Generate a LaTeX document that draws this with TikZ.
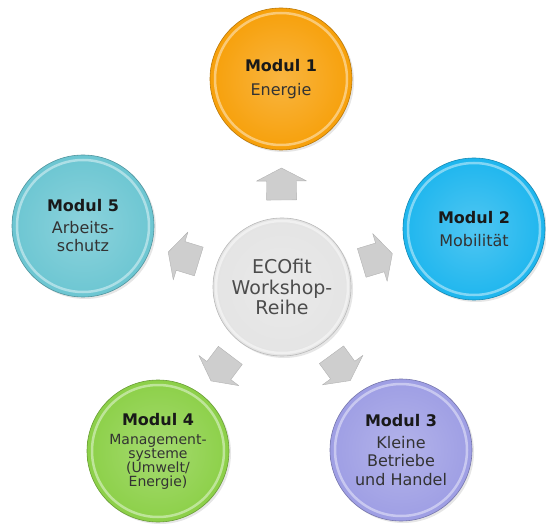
\documentclass[tikz,border=0pt]{standalone}
\usepackage{fontspec}
\setmainfont{DejaVu Sans}
\usetikzlibrary{decorations.markings,shadows}

\definecolor{energie}{RGB}{247,160,10}
\definecolor{mobil}{RGB}{30,182,238}
\definecolor{betrieb}{RGB}{158,158,228}
\definecolor{umwelt}{RGB}{140,208,72}
\definecolor{arbeit}{RGB}{108,198,210}
\definecolor{zentrum}{RGB}{228,228,228}
\definecolor{pfeil}{RGB}{206,206,206}

\newcommand{\blockpfeil}{\draw[fill=pfeil, draw=gray!60, line join=round] (-16,-15) -- (3,-15) -- (3,-25) -- (16,0) -- (3,25) -- (3,15) -- (-16,15) -- cycle;}

\begin{document}
\begin{tikzpicture}[x=1pt, y=-1pt,
    modul/.style={circle, minimum size=142pt, inner sep=0pt, align=center, text=black!80,
        inner color=#1!78!white, outer color=#1, draw=#1!75!black, line width=0.6pt,
        drop shadow={opacity=0.2, shadow xshift=2pt, shadow yshift=-2pt},
        path picture={\draw[#1!45!white, line width=2.5pt, opacity=0.8] (path picture bounding box.center) circle (66pt);},
        font=\fontsize{16}{18.5}\selectfont},
    flow/.style={decoration={markings, mark=at position 0.5 with {\blockpfeil}}, postaction={decorate}}]
        \useasboundingbox (0,0) rectangle (546,529);

        \node[modul=zentrum, minimum size=138pt, draw=gray!55, text=black!70, font=\fontsize{19}{20.5}\selectfont] (Z) at (282, 287) {ECOfit\\Workshop-\\Reihe};

        \node[modul=energie] (M1) at (281, 79) {\textbf{\textcolor{black!90}{Modul 1}}\\[5pt]Energie};
        \node[modul=mobil] (M2) at (474, 229) {\textbf{\textcolor{black!90}{Modul 2}}\\[5pt]Mobilität};
        \node[modul=betrieb] (M3) at (401, 450) {\textbf{\textcolor{black!90}{Modul 3}}\\[3pt]Kleine\\Betriebe\\und Handel};
        \node[modul=umwelt, font=\fontsize{14}{14}\selectfont] (M4) at (158, 451) {{\fontsize{16}{18.5}\selectfont\textbf{\textcolor{black!90}{Modul 4}}}\\[5pt]Management-\\systeme\\(Umwelt/\\Energie)};
        \node[modul=arbeit] (M5) at (83, 226) {\textbf{\textcolor{black!90}{Modul 5}}\\[3pt]Arbeits-\\schutz};

        % \draw (Z) -- (M1);
        \path[flow] (Z) -- (M1);
        \path[flow] (Z) -- (M2);
        \path[flow] (Z) -- (M3);
        \path[flow] (Z) -- (M4);
        \path[flow] (Z) -- (M5);
    \end{tikzpicture}
\end{document}
